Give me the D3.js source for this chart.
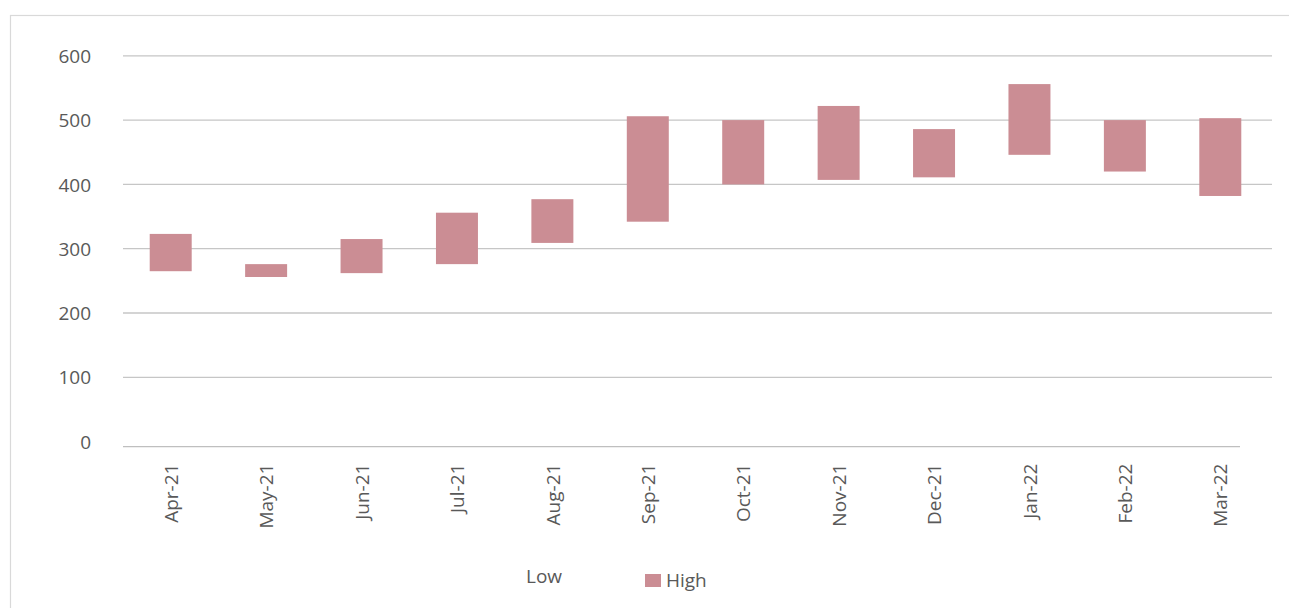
<!DOCTYPE html>
<html>
<head>
<meta charset="utf-8">
<script src="https://cdn.jsdelivr.net/npm/d3@7"></script>
<style>
  html, body { margin: 0; padding: 0; background: #fff; }
  svg { display: block; }
  text { font-family: "Open Sans", "Noto Sans", sans-serif; fill: #595959; }
</style>
</head>
<body>
<svg id="chart" width="1289" height="608"></svg>
<script>
const categories = ["Apr-21","May-21","Jun-21","Jul-21","Aug-21","Sep-21","Oct-21","Nov-21","Dec-21","Jan-22","Feb-22","Mar-22"];
const lowValues  = [265, 256, 262, 276, 309, 342, 400, 407, 411, 446, 420, 382];
const highValues = [323, 276, 315, 356, 377, 506, 500, 522, 486, 556, 500, 503];
const yTicks = [0, 100, 200, 300, 400, 500, 600];

const svg = d3.select("#chart");

// outer border
svg.append("rect").attr("x", 10.5).attr("y", 15.5).attr("width", 1300).attr("height", 620)
  .attr("fill", "none").attr("stroke", "#d9d9d9").attr("stroke-width", 1.2);

const x = d3.scalePoint().domain(categories).range([123, 1268]).padding(0.5);
const y = d3.scaleLinear().domain([0, 600]).range([441.6, 55.8]);
const barW = x.step() * 0.44;

// gridlines
svg.append("g").selectAll("line").data(yTicks.filter(d => d > 0)).join("line")
  .attr("x1", 123).attr("x2", 1272)
  .attr("y1", d => y(d)).attr("y2", d => y(d))
  .attr("stroke", "#c6c6c6").attr("stroke-width", 1.3);

// y axis labels
const yAxis = d3.axisLeft(y).tickValues(yTicks).tickSize(0).tickPadding(0);
const gy = svg.append("g").attr("transform", "translate(91,0)").call(yAxis);
gy.select(".domain").remove();
gy.selectAll("text").attr("font-size", 19).attr("fill", "#595959")
  .style("font-family", "'Open Sans', sans-serif").attr("dy", "0.35em");

// x axis line
svg.append("line").attr("x1", 123).attr("x2", 1240)
  .attr("y1", y(0) + 5).attr("y2", y(0) + 5)
  .attr("stroke", "#bfbfbf").attr("stroke-width", 1.3);

// bars (floating high-low)
svg.append("g").selectAll("rect").data(categories).join("rect")
  .attr("x", d => x(d) - barW / 2)
  .attr("width", barW)
  .attr("y", (d, i) => y(highValues[i]))
  .attr("height", (d, i) => y(lowValues[i]) - y(highValues[i]))
  .attr("fill", "#cb8d94");

// x axis labels
const xAxis = d3.axisBottom(x).tickSize(0).tickPadding(0);
const gx = svg.append("g").attr("transform", `translate(0,${y(0) + 22})`).call(xAxis);
gx.select(".domain").remove();
gx.selectAll("text")
  .attr("font-size", 19).attr("fill", "#595959")
  .style("font-family", "'Open Sans', sans-serif")
  .attr("text-anchor", "end")
  .attr("transform", "rotate(-90)")
  .attr("x", 0).attr("y", 0).attr("dx", 0).attr("dy", "0.35em");

// legend
const legend = svg.append("g");
legend.append("text").attr("x", 526).attr("y", 583).attr("font-size", 19).text("Low");
legend.append("rect").attr("x", 645).attr("y", 574).attr("width", 16).attr("height", 13).attr("fill", "#cb8d94");
legend.append("text").attr("x", 666).attr("y", 587).attr("font-size", 19).text("High");
</script>
</body>
</html>
